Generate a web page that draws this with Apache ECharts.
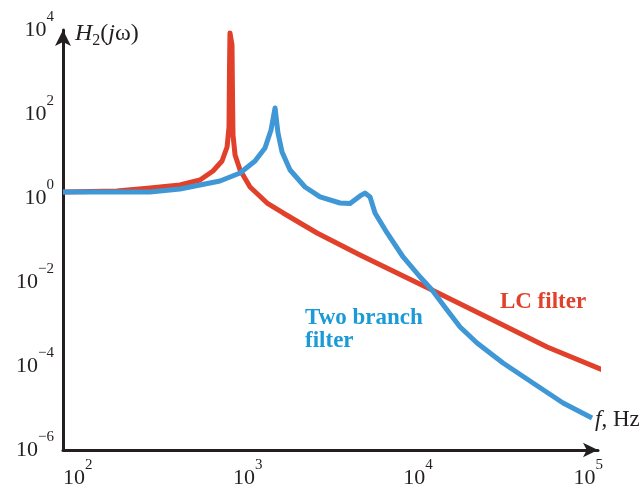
<!DOCTYPE html>
<html>
  <head>
    <meta charset="utf-8" />
    <script src="https://cdn.jsdelivr.net/npm/echarts@6.0.0/dist/echarts.min.js"></script>
    <style>
      html, body { margin: 0; padding: 0; background: #fff; }
    </style>
  </head>
  <body>
    <div id="main" style="width: 643px; height: 491px"></div>

    <script type="text/javascript">
      // frequency (Hz) and |H2(jw)|
      var freqLC = [82, 170, 266, 399, 523, 624, 705, 755, 775, 780, 785, 807, 813, 818, 841, 900, 1030, 1297, 1611, 2548, 4560, 12080, 27500, 57300, 125600];
      var gainLC = [1.39, 1.47, 1.73, 2.04, 2.68, 4.39, 7.6, 16.4, 49, 1117, 8490, 4395, 215, 31.6, 10.6, 4.64, 1.83, 0.76, 0.44, 0.147, 0.044, 0.00645, 0.001245, 0.000283, 0.000076];

      var freqTwo = [82, 266, 399, 686, 900, 1102, 1261, 1368, 1445, 1503, 1588, 1770, 2167, 2655, 3479, 3984, 4560, 4875, 5222, 5585, 6577, 8166, 10280, 12080, 14800, 17650, 22200, 31550, 47300, 71100, 105200];
      var gainTwo = [1.39, 1.39, 1.64, 2.54, 3.94, 7.6, 15.5, 41.6, 139, 35.3, 12.4, 4.64, 1.83, 1.06, 0.76, 0.74, 1.12, 1.31, 1.06, 0.44, 0.147, 0.0394, 0.01315, 0.00645, 0.00215, 0.00085, 0.000353, 0.0001178, 0.0000394, 0.00001315, 0.00000578];

      var xTicks = [1e2, 1e3, 1e4, 1e5];
      var yTicks = [1e-6, 1e-4, 1e-2, 1, 1e2, 1e4];

      var red = "#e1412b";
      var blue = "#3f98d5";
      var ink = "#231f20";
      var serif = "Liberation Serif";

      function pairs(xs, ys) {
        return xs.map(function (x, i) { return [x, ys[i]]; });
      }

      function powLabel(v) {
        var e = Math.round(Math.log10(v));
        return "{b|10}{s|" + (e < 0 ? "\u2212" + (-e) : e) + "}";
      }

      var powRich = {
        b: { fontFamily: serif, fontSize: 22, color: ink, lineHeight: 40, verticalAlign: "middle" },
        s: { fontFamily: serif, fontSize: 15, color: ink, lineHeight: 15, verticalAlign: "top" }
      };

      var myChart = echarts.init(document.getElementById("main"));

      var option = {
        animation: false,
        backgroundColor: "#fff",
        grid: { left: 63, right: 45, top: 30, bottom: 41, containLabel: false, outerBoundsMode: "none" },
        xAxis: {
          type: "log",
          min: Math.pow(10, 1.914),
          max: Math.pow(10, 5.057),
          name: "{i|f}{n|, Hz}",
          nameLocation: "end",
          nameGap: -3,
          nameTextStyle: {
            align: "left",
            verticalAlign: "bottom",
            padding: [0, 0, 19, 0],
            rich: {
              i: { fontFamily: serif, fontStyle: "italic", fontSize: 23, color: ink },
              n: { fontFamily: serif, fontSize: 23, color: ink }
            }
          },
          axisLine: {
            show: true,
            symbol: ["none", "arrow"],
            symbolSize: [11, 15],
            lineStyle: { color: ink, width: 3 }
          },
          axisTick: { show: false },
          splitLine: { show: false },
          minorTick: { show: false },
          axisLabel: {
            customValues: xTicks,
            margin: 8,
            formatter: powLabel,
            rich: powRich
          }
        },
        yAxis: {
          type: "log",
          min: 1e-6,
          max: 1e4,
          name: "{i|H}{sub|2}{n|(}{i|j}{n|\u03c9)}",
          nameLocation: "end",
          nameGap: -4,
          nameTextStyle: {
            align: "left",
            verticalAlign: "middle",
            padding: [0, 0, 0, 12],
            rich: {
              i: { fontFamily: serif, fontStyle: "italic", fontSize: 24, color: ink, lineHeight: 30, verticalAlign: "middle" },
              n: { fontFamily: serif, fontSize: 24, color: ink, lineHeight: 30, verticalAlign: "middle" },
              sub: { fontFamily: serif, fontSize: 16, color: ink, lineHeight: 16, verticalAlign: "bottom" }
            }
          },
          axisLine: {
            show: true,
            symbol: ["none", "arrow"],
            symbolSize: [12, 16],
            lineStyle: { color: ink, width: 3 }
          },
          axisTick: { show: false },
          splitLine: { show: false },
          minorTick: { show: false },
          axisLabel: {
            customValues: yTicks,
            margin: 9,
            formatter: powLabel,
            rich: powRich
          }
        },
        series: [
          {
            name: "LC filter",
            type: "line",
            data: pairs(freqLC, gainLC),
            symbol: "none",
            clip: false,
            lineStyle: { color: red, width: 5, join: "round", cap: "butt" },
            z: 2,
            markPoint: {
              symbol: "circle",
              symbolSize: 0,
              data: [{ coord: [54200, 0.00334], value: "LC filter" }],
              label: {
                show: true,
                position: "inside",
                formatter: "LC filter",
                fontFamily: serif,
                fontWeight: "bold",
                fontSize: 23,
                color: red
              }
            }
          },
          {
            name: "Two branch filter",
            type: "line",
            data: pairs(freqTwo, gainTwo),
            symbol: "none",
            clip: false,
            lineStyle: { color: blue, width: 5, join: "round", cap: "butt" },
            z: 3,
            markPoint: {
              symbol: "circle",
              symbolSize: 0,
              data: [{ coord: [2168, 0.00072], value: "Two branch filter" }],
              label: {
                show: true,
                position: "inside",
                align: "left",
                formatter: "Two branch\nfilter",
                fontFamily: serif,
                fontWeight: "bold",
                fontSize: 23,
                lineHeight: 23,
                color: "#1b9ad8"
              }
            }
          }
        ]
      };

      myChart.setOption(option);
    </script>
  </body>
</html>
